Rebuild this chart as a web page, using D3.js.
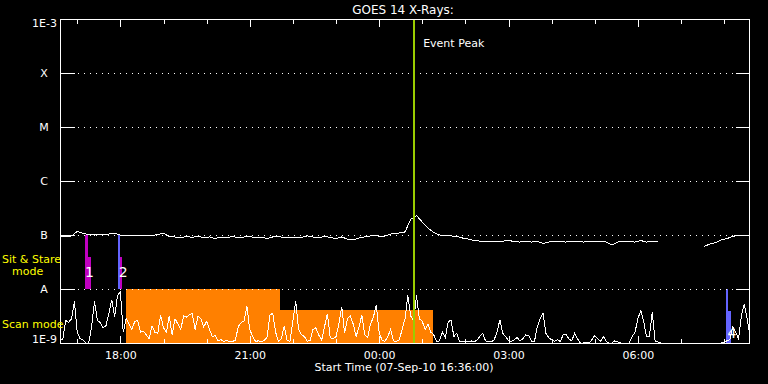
<!DOCTYPE html>
<html>
<head>
<meta charset="utf-8">
<script src="https://cdn.jsdelivr.net/npm/d3@7"></script>
<style>
  html, body { margin: 0; background: #000; }
  svg { display: block; font-family: "DejaVu Sans", sans-serif; }
</style>
</head>
<body>
<svg id="chart" width="768" height="384"></svg>
<script>
const chartTitle = 'GOES 14 X-Rays:';
const startTime = '2010-09-07 16:36';
const endTime = '2010-09-08 08:36';
const peakTime = '2010-09-08 00:48';

// GOES long channel flux (W/m^2), one value every 8 minutes from startTime
const fluxStepMin = 8;
const goesFlux = [
  9.2e-8, 9.4e-8, 9.6e-8, 1.16e-7, 1.07e-7, 1.02e-7, 1.0e-7, 1.02e-7, 1.0e-7, 1.09e-7,
  1.04e-7, 9.6e-8, 9.8e-8, 9.6e-8, 9.8e-8, 9.6e-8, 9.8e-8, 1.02e-7, 1.07e-7, 9.4e-8,
  9.2e-8, 8.8e-8, 9.4e-8, 9.0e-8, 9.6e-8, 8.8e-8, 9.2e-8, 8.6e-8, 9.2e-8, 8.8e-8,
  9.4e-8, 8.8e-8, 9.2e-8, 9.4e-8, 8.8e-8, 9.2e-8, 8.6e-8, 9.2e-8, 9.4e-8, 8.8e-8,
  9.2e-8, 8.8e-8, 9.0e-8, 9.6e-8, 9.2e-8, 8.8e-8, 9.4e-8, 9.0e-8, 8.6e-8, 9.2e-8,
  8.4e-8, 8.1e-8, 8.8e-8, 9.2e-8, 9.6e-8, 9.8e-8, 9.2e-8, 1.0e-7, 1.07e-7, 1.09e-7,
  1.14e-7, 1.95e-7, 2.3e-7, 1.74e-7, 1.35e-7, 1.11e-7, 1.0e-7, 9.8e-8, 9.6e-8, 9.4e-8,
  8.8e-8, 8.4e-8, 7.9e-8, 7.7e-8, 7.6e-8, 7.7e-8, 7.6e-8, 7.7e-8, 7.9e-8, 7.6e-8,
  7.4e-8, 7.7e-8, 7.4e-8, 7.6e-8, 7.0e-8, 7.4e-8, 7.7e-8, 7.6e-8, 7.4e-8, 7.7e-8,
  7.6e-8, 7.4e-8, 7.7e-8, 7.6e-8, 7.7e-8, 7.4e-8, 6.5e-8, 7.4e-8, 7.7e-8, 7.6e-8,
  7.4e-8, 7.9e-8, 7.4e-8, 7.7e-8, 7.6e-8, null, null, null, null, null,
  null, null, 6.1e-8, 6.8e-8, 7.2e-8, 8.1e-8, 8.6e-8, 9.4e-8, 1.0e-7, 1.0e-7,
  9.8e-8
];

// scan-mode signal (percent of band), one value every 4 minutes
const scanStepMin = 4;
const scanCounts = [
  4, 8, 42, 38, 45, 77, 20, 8, 6, 0,
  0, 30, 77, 42, 38, 28, 32, 55, 80, 48,
  88, 95, 20, 45, 35, 25, 40, 42, 20, 22,
  15, 8, 32, 20, 18, 52, 28, 20, 50, 15,
  45, 35, 25, 50, 48, 52, 55, 25, 50, 45,
  30, 40, 25, 12, 14, 4, 6, 3, 5, 2,
  3, 5, 30, 38, 40, 68, 25, 12, 3, 4,
  2, 5, 10, 52, 55, 20, 3, 8, 32, 5,
  3, 40, 77, 25, 15, 12, 3, 5, 25, 28,
  15, 5, 30, 54, 10, 8, 12, 35, 67, 18,
  45, 50, 35, 12, 30, 52, 15, 10, 35, 48,
  70, 20, 5, 3, 12, 25, 4, 3, 6, 25,
  45, 88, 50, 40, 88, 45, 40, 25, 35, 20,
  15, 3, 4, 20, 10, 38, 43, 12, 18, 3,
  2, 3, 2, 4, 2, 5, 12, 18, 4, 3,
  2, 6, 20, 43, 18, 12, 4, 3, 6, 10,
  4, 8, 15, 14, 3, 2, 30, 45, 55, 18,
  10, 6, 3, 6, 3, 15, 16, 8, 4, 18,
  8, 0, 0, 2, 0, 6, 14, 8, 3, 12,
  3, 0, 0, 4, 2, 0, 0, 0, 0, 12,
  20, 45, 60, 40, 12, 12, 57, 3, 2, 0,
  0, 0, 0, 0, 0, 0, 0, 0, 0, 0,
  0, 0, 0, 0, 0, 0, 0, 0, 0, 0,
  0, 2, 4, 6, 30, 20, 8, 50, 72, 45, 12
];

const levelValues = [1e-3, 1e-4, 1e-5, 1e-6, 1e-7, 1e-8, 1e-9];
const levelLabels = ['1E-3', 'X', 'M', 'C', 'B', 'A', '1E-9'];

// scan mode coverage blocks
const scanStart = ['2010-09-07 18:08', '2010-09-07 21:42'];
const scanEnd = ['2010-09-07 21:42', '2010-09-08 01:15'];
const scanLevel = [1.0, 0.62];

// pointed observations
const barStart = ['2010-09-07 17:11', '2010-09-07 17:15', '2010-09-07 17:57', '2010-09-07 17:59', '2010-09-08 08:03', '2010-09-08 08:06'];
const barEnd = ['2010-09-07 17:15', '2010-09-07 17:19', '2010-09-07 17:59', '2010-09-07 18:02', '2010-09-08 08:06', '2010-09-08 08:09'];
const barLevel = [1.0, 0.6, 1.0, 0.6, 1.0, 0.6];
const barKind = ['stare', 'stare', 'scan', 'stare', 'scan', 'scan'];
const barRow = ['stare', 'stare', 'stare', 'stare', 'scan', 'scan'];

const obsLabels = ['1', '2', '4'];
const obsTimes = ['2010-09-07 17:17', '2010-09-07 18:04', '2010-09-08 08:11'];
const obsRow = ['stare', 'stare', 'scan'];

const parse = d3.timeParse('%Y-%m-%d %H:%M');
const t0 = parse(startTime);

const x = d3.scaleTime().domain([t0, parse(endTime)]).range([60, 750]);
const y = d3.scaleLog().domain([1e-9, 1e-3]).range([343, 19]);

const rows = {
  stare: [y(1e-8), y(1e-7)],
  scan: [y(1e-9), y(1e-8)]
};
const rowScale = r => d3.scaleLinear().domain([0, 1]).range(rows[r]);
const scanY = d3.scaleLinear().domain([0, 100]).range(rows.scan);
const kindColor = d3.scaleOrdinal().domain(['stare', 'scan']).range(['#c000c0', '#6464ff']);

const svg = d3.select('#chart');
svg.append('rect').attr('width', 768).attr('height', 384).attr('fill', '#000');

// scan mode blocks
svg.append('g')
  .attr('shape-rendering', 'crispEdges')
  .selectAll('rect')
  .data(scanStart.map((s, i) => ({s: parse(s), e: parse(scanEnd[i]), v: scanLevel[i]})))
  .join('rect')
    .attr('x', d => x(d.s))
    .attr('width', d => x(d.e) - x(d.s))
    .attr('y', d => rowScale('scan')(d.v))
    .attr('height', d => rowScale('scan')(0) - rowScale('scan')(d.v))
    .attr('fill', '#ff8000');

// observation bars
svg.append('g')
  .attr('shape-rendering', 'crispEdges')
  .selectAll('rect')
  .data(barStart.map((s, i) => ({s: parse(s), e: parse(barEnd[i]), v: barLevel[i], k: barKind[i], r: barRow[i]})))
  .join('rect')
    .attr('x', d => x(d.s))
    .attr('width', d => x(d.e) - x(d.s))
    .attr('y', d => rowScale(d.r)(d.v))
    .attr('height', d => rowScale(d.r)(0) - rowScale(d.r)(d.v))
    .attr('fill', d => kindColor(d.k));

// level grid: solid ticks at both edges, dotted between
const grid = svg.append('g').attr('stroke', '#fff').attr('shape-rendering', 'crispEdges');
levelValues.slice(1, -1).forEach(v => {
  const yy = Math.round(y(v)) + 0.5;
  grid.append('line').attr('x1', 60).attr('x2', 75).attr('y1', yy).attr('y2', yy);
  grid.append('line').attr('x1', 736).attr('x2', 750).attr('y1', yy).attr('y2', yy);
  grid.append('line').attr('x1', 78).attr('x2', 734).attr('y1', yy).attr('y2', yy)
    .attr('stroke-dasharray', '1 5');
});

// scan signal
svg.append('path')
  .datum(scanCounts)
  .attr('fill', 'none')
  .attr('stroke', '#fff')
  .attr('stroke-width', 1)
  .attr('shape-rendering', 'crispEdges')
  .attr('d', d3.line()
    .x((d, i) => x(d3.timeMinute.offset(t0, i * scanStepMin)))
    .y(d => scanY(d)));

// GOES flux
svg.append('path')
  .datum(goesFlux)
  .attr('fill', 'none')
  .attr('stroke', '#fff')
  .attr('stroke-width', 1)
  .attr('shape-rendering', 'crispEdges')
  .attr('d', d3.line()
    .defined(d => d != null)
    .x((d, i) => x(d3.timeMinute.offset(t0, i * fluxStepMin)))
    .y(d => y(d)));

// observation numbers
const obsBase = {stare: 12, scan: 5};
svg.append('g')
  .attr('fill', '#fff')
  .attr('font-size', 14)
  .attr('text-anchor', 'middle')
  .selectAll('text')
  .data(obsLabels.map((l, i) => ({l, t: parse(obsTimes[i]), r: obsRow[i]})))
  .join('text')
    .attr('x', d => x(d.t))
    .attr('y', d => rows[d.r][0] - obsBase[d.r])
    .text(d => d.l);

// event peak
const px = x(parse(peakTime));
svg.append('line')
  .attr('x1', px).attr('x2', px).attr('y1', 19).attr('y2', 343)
  .attr('stroke', '#9acd00').attr('stroke-width', 2)
  .attr('shape-rendering', 'crispEdges');
svg.append('text')
  .attr('x', px + 9.5).attr('y', 46.5)
  .attr('fill', '#fff').attr('font-size', 11)
  .text('Event Peak');

// frame
svg.append('rect')
  .attr('x', 60.5).attr('y', 19.5).attr('width', 689).attr('height', 323.5)
  .attr('fill', 'none').attr('stroke', '#fff')
  .attr('shape-rendering', 'crispEdges');

// time ticks
const addTicks = (yPos, every, size, dir) => {
  const ax = dir > 0 ? d3.axisBottom(x) : d3.axisTop(x);
  const g = svg.append('g')
    .attr('transform', `translate(0,${yPos})`)
    .attr('shape-rendering', 'crispEdges')
    .call(ax.ticks(d3.timeHour.every(every)).tickSize(size).tickFormat(''));
  g.select('.domain').remove();
  g.selectAll('line').attr('stroke', '#fff');
};
addTicks(19.5, 1, 4, 1);
addTicks(19.5, 3, 7, 1);
addTicks(342.5, 1, 4, -1);
addTicks(342.5, 3, 7, -1);

const xLabels = svg.append('g')
  .attr('transform', 'translate(0,343)')
  .call(d3.axisBottom(x).ticks(d3.timeHour.every(3)).tickSize(0).tickFormat(d3.timeFormat('%H:%M')));
xLabels.select('.domain').remove();
xLabels.selectAll('text')
  .attr('dy', null).attr('y', 15.5)
  .attr('fill', '#fff').attr('font-size', 11).attr('font-family', '"DejaVu Sans", sans-serif');

// level labels
svg.append('g')
  .attr('fill', '#fff')
  .attr('font-size', 11)
  .selectAll('text')
  .data(levelValues.map((v, i) => ({v, l: levelLabels[i], i})))
  .join('text')
    .attr('x', d => d.l.length > 1 ? 57 : 44)
    .attr('text-anchor', d => d.l.length > 1 ? 'end' : 'middle')
    .attr('y', d => d.i === 0 ? y(d.v) + 8 : d.i === levelValues.length - 1 ? y(d.v) : y(d.v) + 4)
    .text(d => d.l);

// mode labels
const modeText = svg.append('g').attr('fill', '#ffff00').attr('font-size', 11);
modeText.append('text').attr('x', 2).attr('y', 263).text('Sit & Stare');
modeText.append('text').attr('x', 12).attr('y', 275).text('mode');
modeText.append('text').attr('x', 2).attr('y', 328).text('Scan mode');

// titles
svg.append('text')
  .attr('x', 403).attr('y', 13.5)
  .attr('text-anchor', 'middle').attr('fill', '#fff').attr('font-size', 12)
  .text(chartTitle);
svg.append('text')
  .attr('x', 404).attr('y', 371)
  .attr('text-anchor', 'middle').attr('fill', '#fff').attr('font-size', 11)
  .text(`Start Time (${d3.timeFormat('%d-%b-%y %H:%M:%S')(t0)})`);
</script>
</body>
</html>
